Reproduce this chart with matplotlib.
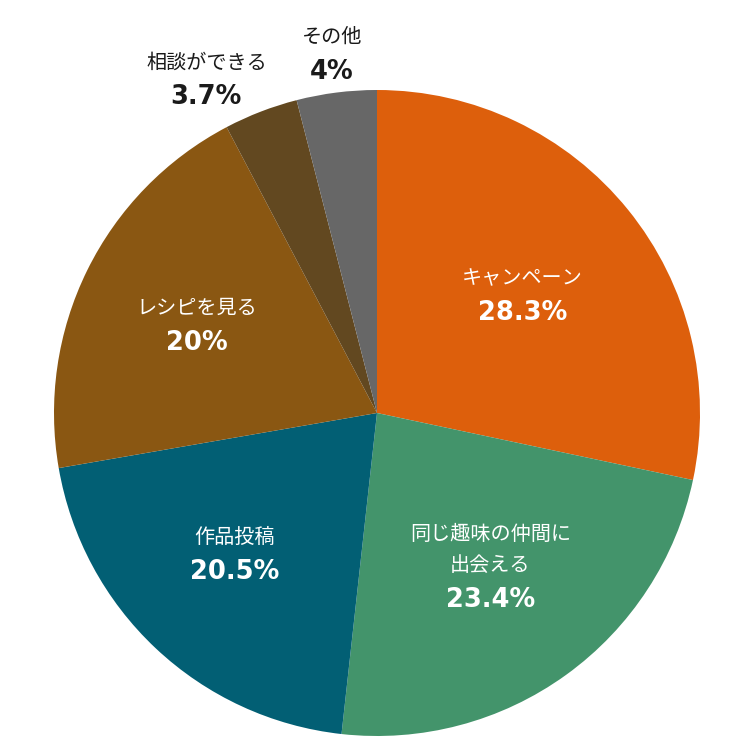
import numpy as np
import matplotlib.pyplot as plt

plt.rcParams['font.family'] = ['Noto Sans CJK JP', 'DejaVu Sans']

# データ
ラベル = ['キャンペーン', '同じ趣味の仲間に\n出会える', '作品投稿', 'レシピを見る', '相談ができる', 'その他']
割合 = [28.3, 23.4, 20.5, 20.0, 3.7, 4.0]
表示 = ['28.3%', '23.4%', '20.5%', '20%', '3.7%', '4%']
色 = ['#DD5F0C', '#43946B', '#025F74', '#8A5712', '#624820', '#676767']

fig = plt.figure(figsize=(7.55, 7.55), dpi=100)
ax = fig.add_axes([0, 0, 1, 1])

中心 = (377, 342)
半径 = 323
wedges, _ = ax.pie(割合, colors=色, startangle=90, counterclock=False,
                   center=中心, radius=半径, frame=True,
                   wedgeprops=dict(linewidth=0))
ax.set_xlim(0, 755)
ax.set_ylim(0, 755)
ax.set_aspect('equal')
ax.axis('off')

# ラベル位置（半径比と角度補正）
距離 = [0.58, 0.63, 0.62, 0.62, 1.16, 1.12]
角度補正 = [0, -2, -2, 0, 6, 0]
内側 = [True, True, True, True, False, False]

for w, name, pct, r, da, inside in zip(wedges, ラベル, 表示, 距離, 角度補正, 内側):
    ang = np.deg2rad((w.theta1 + w.theta2) / 2 + da)
    x = 中心[0] + r * 半径 * np.cos(ang)
    y = 中心[1] + r * 半径 * np.sin(ang)
    c = 'white' if inside else '#1a1a1a'
    ax.text(x, y + 6, name, ha='center', va='bottom', fontsize=14.5,
            color=c, linespacing=1.65)
    ax.text(x, y - 5, pct, ha='center', va='top', fontsize=18.5,
            fontweight='bold', color=c, family=['DejaVu Sans'])

fig.savefig('out.png', dpi=100, facecolor='white')
